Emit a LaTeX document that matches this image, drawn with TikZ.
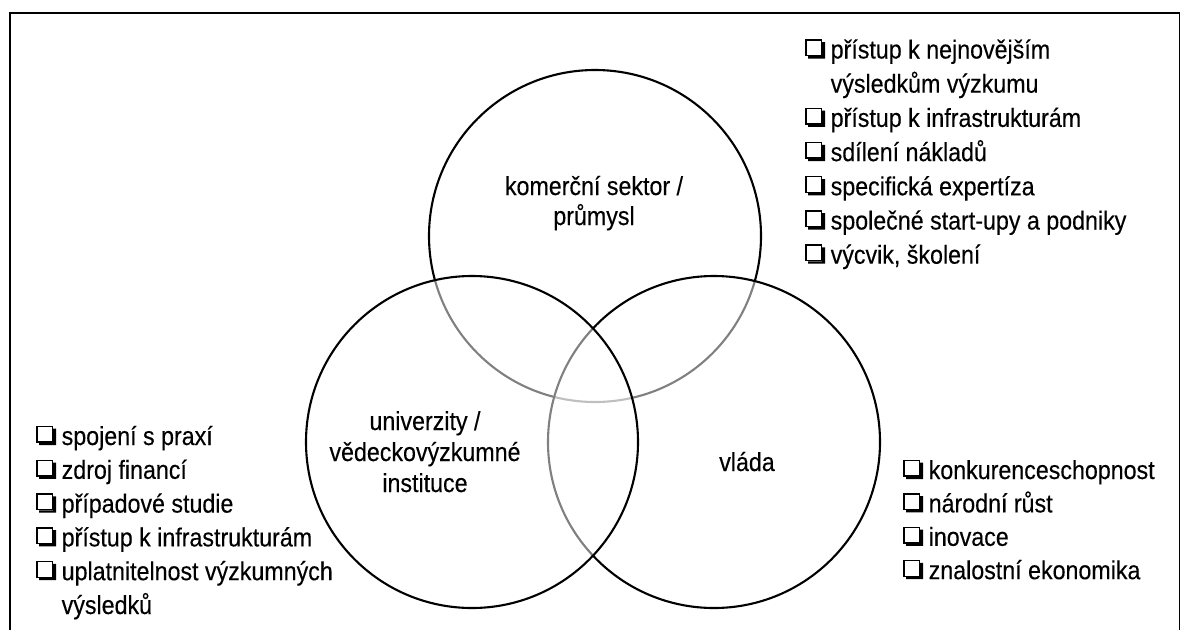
\documentclass[tikz,border=0pt]{standalone}
\usepackage{fontspec}
\setmainfont{Liberation Sans}[FakeStretch=0.89,FakeBold=0.25]

% shadowed check box used as list bullet
\newcommand\chk{\tikz[x=1pt,y=1pt,baseline=0pt]{%
  \draw[line width=1.4pt,fill=white] (0.7,3.0) rectangle (16.3,18.6);
  \fill (3,0) -- (20,0) -- (20,16.3) -- (17,16.3) -- (17,2.3) -- (3,2.3) -- cycle;}\kern5.5pt}
\newcommand\hang{\kern25.5pt}
% stacked lines, baseline of the stack = baseline of the first line
\newcommand\leftstack[2]{\vtop{\baselineskip=#1\relax\lineskiplimit=-60pt\halign{##\hfil\cr#2\crcr}}}
\newcommand\centerstack[2]{\vtop{\baselineskip=#1\relax\lineskiplimit=-60pt\halign{\hfil##\hfil\cr#2\crcr}}}

\begin{document}
\begin{tikzpicture}[x=1pt,y=-1pt,
  ring/.style={circle, draw=black, line width=2.1pt, fill=white, fill opacity=0.5,
    draw opacity=1, minimum size=332pt, inner sep=0pt},
  setname/.style={inner sep=0pt, anchor=base, font=\fontsize{26.1pt}{30.5pt}\selectfont},
  benefits/.style={inner sep=0pt, anchor=base west, font=\fontsize{26.1pt}{34pt}\selectfont}]

\useasboundingbox (0,0) rectangle (1183,630);
\fill[white] (0,0) rectangle (1183,630);

% open frame
\draw[line width=2pt] (9.5,630) -- (9.5,13) -- (1179.5,13);
\draw[line width=1.5pt] (1179.5,12) -- (1179.5,630);

% the three sectors
\node[ring] (industry) at (595,236) {};
\node[ring] (government) at (714,442) {};
\node[ring] (universities) at (472,442) {};

\node[setname] (industryname) at (594,195) {\centerstack{30pt}{komerční sektor /\cr průmysl}};
\node[setname] (universitiesname) at (425,430) {\centerstack{31pt}{univerzity /\cr vědeckovýzkumné\cr instituce}};
\node[setname] (governmentname) at (747,471) {vláda};

% benefit lists
\node[benefits] (industrylist) at (805,58.5) {\leftstack{34.2pt}{%
  \chk přístup k nejnovějším\cr
  \hang výsledkům výzkumu\cr
  \chk přístup k infrastrukturám\cr
  \chk sdílení nákladů\cr
  \chk specifická expertíza\cr
  \chk společné start-upy a podniky\cr
  \chk výcvik, školení}};

\node[benefits] (universitieslist) at (36,445) {\leftstack{33.8pt}{%
  \chk spojení s praxí\cr
  \chk zdroj financí\cr
  \chk případové studie\cr
  \chk přístup k infrastrukturám\cr
  \chk uplatnitelnost výzkumných\cr
  \hang výsledků}};

\node[benefits] (governmentlist) at (903,479) {\leftstack{33.4pt}{%
  \chk konkurenceschopnost\cr
  \chk národní růst\cr
  \chk inovace\cr
  \chk znalostní ekonomika}};
\end{tikzpicture}
\end{document}
